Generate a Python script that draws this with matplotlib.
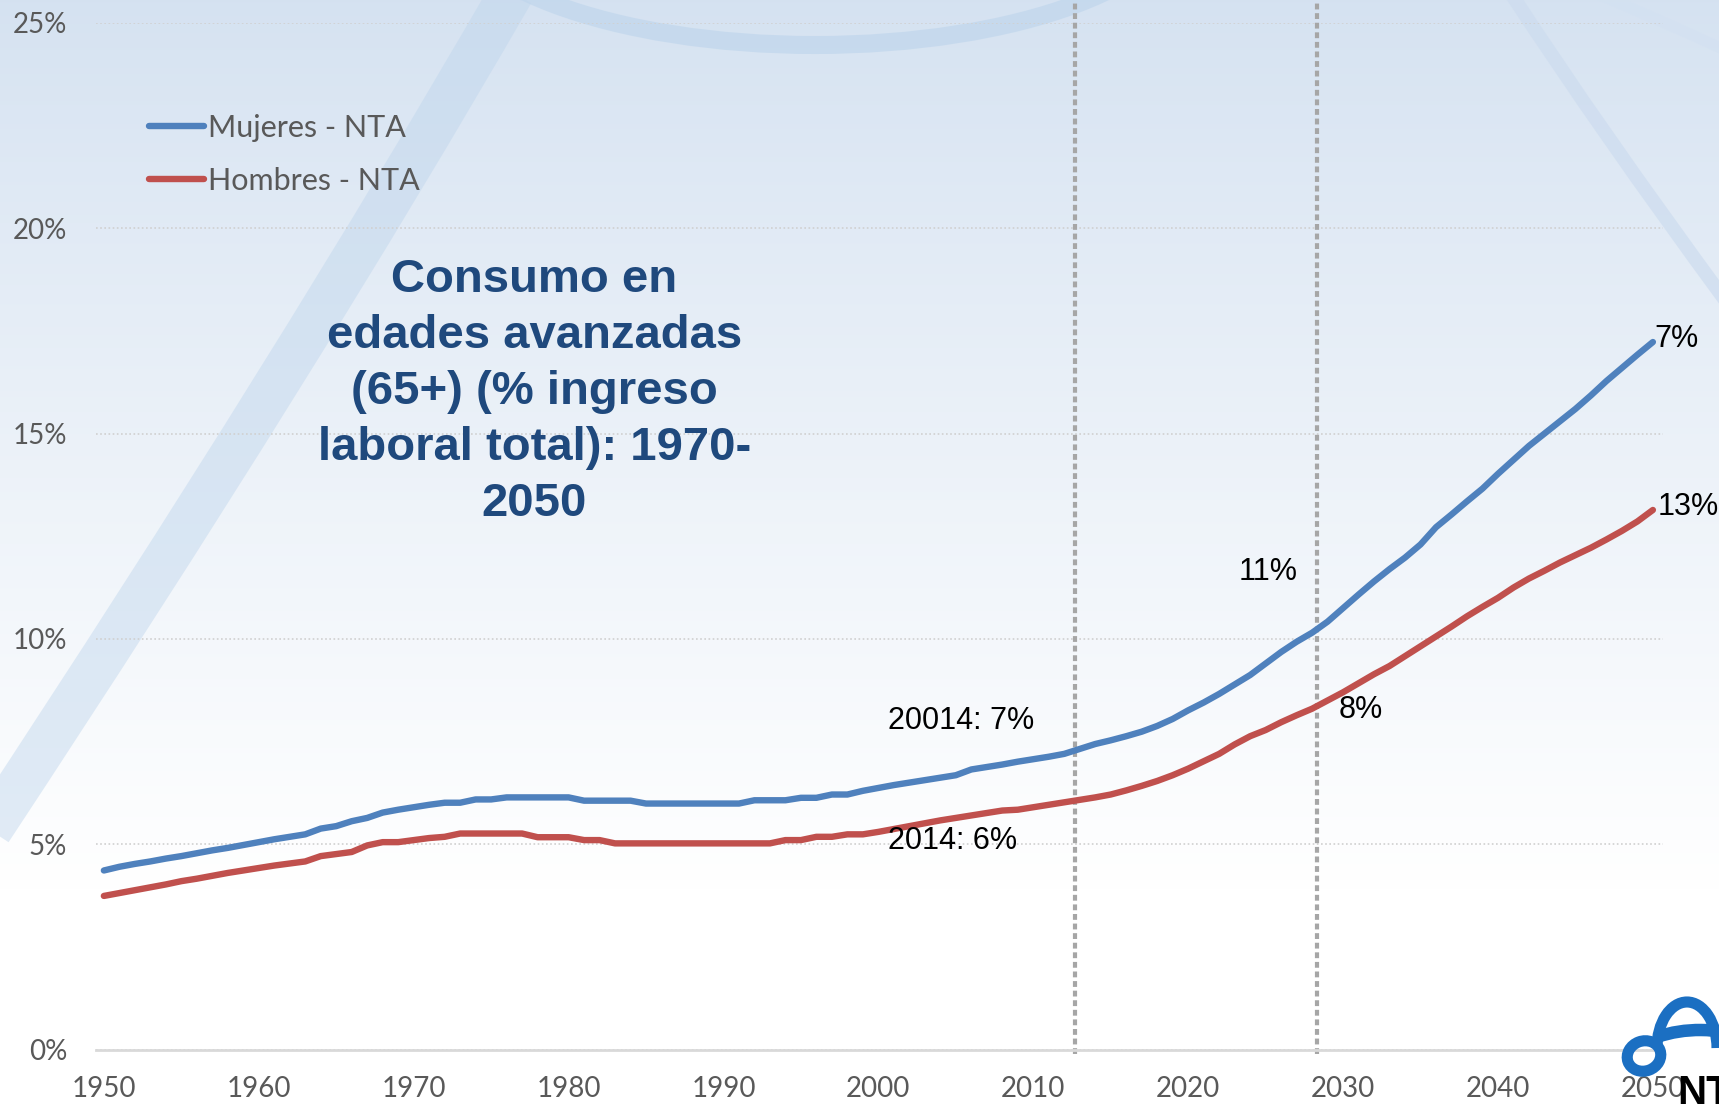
import matplotlib
matplotlib.use("Agg")
import matplotlib.pyplot as plt
import numpy as np
from matplotlib.patches import Ellipse, Arc, PathPatch
from matplotlib.path import Path
from matplotlib.ticker import FuncFormatter

plt.rcParams['lines.solid_capstyle'] = 'round'

# --- data ---
years = list(range(1950, 2051))
mujeres = [4.36, 4.45, 4.52, 4.58, 4.65, 4.71, 4.78, 4.85, 4.91, 4.98,
           5.05, 5.12, 5.18, 5.24, 5.38, 5.44, 5.56, 5.64, 5.77, 5.84,
           5.90, 5.96, 6.01, 6.01, 6.09, 6.09, 6.14, 6.14, 6.14, 6.14,
           6.14, 6.06, 6.06, 6.06, 6.06, 5.99, 5.99, 5.99, 5.99, 5.99,
           5.99, 5.99, 6.07, 6.07, 6.07, 6.13, 6.13, 6.21, 6.21, 6.30,
           6.37, 6.44, 6.50, 6.56, 6.62, 6.68, 6.82, 6.88, 6.94, 7.01,
           7.07, 7.13, 7.20, 7.32, 7.44, 7.53, 7.63, 7.74, 7.88, 8.05,
           8.26, 8.45, 8.66, 8.89, 9.12, 9.40, 9.68, 9.93, 10.15, 10.42,
           10.75, 11.08, 11.40, 11.70, 11.98, 12.30, 12.72, 13.03, 13.35, 13.66,
           14.02, 14.36, 14.70, 15.00, 15.30, 15.60, 15.93, 16.28, 16.60, 16.92,
           17.23]
hombres = [3.74, 3.81, 3.88, 3.95, 4.02, 4.10, 4.16, 4.23, 4.30, 4.36,
           4.42, 4.48, 4.53, 4.58, 4.71, 4.76, 4.81, 4.97, 5.05, 5.05,
           5.10, 5.15, 5.18, 5.26, 5.26, 5.26, 5.26, 5.26, 5.17, 5.17,
           5.17, 5.10, 5.10, 5.02, 5.02, 5.02, 5.02, 5.02, 5.02, 5.02,
           5.02, 5.02, 5.02, 5.02, 5.10, 5.10, 5.18, 5.18, 5.24, 5.24,
           5.30, 5.37, 5.44, 5.51, 5.58, 5.64, 5.70, 5.76, 5.82, 5.84,
           5.90, 5.96, 6.02, 6.08, 6.14, 6.21, 6.31, 6.42, 6.54, 6.68,
           6.84, 7.02, 7.20, 7.43, 7.63, 7.78, 7.97, 8.14, 8.30, 8.50,
           8.70, 8.92, 9.14, 9.34, 9.58, 9.82, 10.06, 10.30, 10.55, 10.78,
           11.00, 11.25, 11.47, 11.66, 11.86, 12.04, 12.22, 12.42, 12.63, 12.86,
           13.14]
series_names = ['Mujeres - NTA', 'Hombres - NTA']
title_text = 'Consumo en\nedades avanzadas\n(65+) (% ingreso\nlaboral total): 1970-\n2050'
# (text, x, y)
labels = [('20014: 7%', 2000.6, 8.0), ('2014: 6%', 2000.6, 5.07),
          ('11%', 2023.25, 11.62), ('8%', 2029.7, 8.28),
          ('7%', 2050.1, 17.3), ('13%', 2050.3, 13.22)]
marker_years = [2012.7, 2028.3]

W, H = 1719, 1110
fig = plt.figure(figsize=(W / 100, H / 100), dpi=100)

# background: light blue gradient and decorative bands
bg = fig.add_axes([0, 0, 1, 1], zorder=0)
bg.set_xlim(0, W)
bg.set_ylim(H, 0)
bg.axis('off')
t = np.linspace(0, 1, 400)[:, None]
top = np.array([0.835, 0.886, 0.945])
k = np.clip(t / 0.8, 0, 1) ** 0.9
grad = top + (1 - top) * k[..., None]
grad = np.repeat(grad, 2, axis=1)
bg.imshow(grad, extent=[0, W, H, 0], aspect='auto', interpolation='bilinear')

band = '#bed5ec'
p1 = Path([(-10, 830), (300, 360), (512, -8)], [Path.MOVETO, Path.CURVE3, Path.CURVE3])
bg.add_patch(PathPatch(p1, fill=False, lw=32, color=band, alpha=0.45, capstyle='butt'))
bg.add_patch(Ellipse((815, -95), 740, 280, fill=False, lw=13, color=band, alpha=0.65))
p3 = Path([(1512, -5), (1600, 130), (1725, 300)], [Path.MOVETO, Path.CURVE3, Path.CURVE3])
bg.add_patch(PathPatch(p3, fill=False, lw=10, color='#cddcef', alpha=0.7, capstyle='butt'))
p4 = Path([(1600, -5), (1660, 20), (1725, 50)], [Path.MOVETO, Path.CURVE3, Path.CURVE3])
bg.add_patch(PathPatch(p4, fill=False, lw=8, color='#d3e1f1', alpha=0.6, capstyle='butt'))

# main chart
ax = fig.add_axes([0.0561, 0.0545, 0.9113, 0.9248], zorder=1)
ax.patch.set_alpha(0)
ax.plot(years, mujeres, color='#4f81bd', lw=4.6, label=series_names[0], zorder=3)
ax.plot(years, hombres, color='#c0504d', lw=4.6, label=series_names[1], zorder=3)

for yr in marker_years:
    ax.axvline(yr, ymin=-0.004, ymax=1.03, color='#a6a6a6', lw=3,
               linestyle=(0, (1.4, 0.9)), clip_on=False, zorder=2)

ax.set_xlim(1949.52, 2050.65)
ax.set_ylim(0, 25)
ax.set_xticks(range(1950, 2051, 10))
ax.set_yticks(range(0, 26, 5))
ax.yaxis.set_major_formatter(FuncFormatter(lambda v, p: '%d%%' % v))
ax.yaxis.grid(True, color='#d0d0d0', lw=1.2, linestyle=(0, (1, 1.5)))
ax.set_axisbelow(True)
for s in ['top', 'right', 'left']:
    ax.spines[s].set_visible(False)
ax.spines['bottom'].set_color('#d9d9d9')
ax.spines['bottom'].set_linewidth(2)
ax.spines['bottom'].set_zorder(2.5)
ax.tick_params(axis='both', length=0, labelcolor='#595959', labelsize=20)
ax.tick_params(axis='y', pad=21)
ax.tick_params(axis='x', pad=19)
for lab in ax.get_xticklabels() + ax.get_yticklabels():
    lab.set_family('Lato')

leg = ax.legend(loc='upper left', bbox_to_anchor=(149 / W, 1 - 114 / H),
                bbox_transform=fig.transFigure, frameon=False,
                prop={'family': 'Lato', 'size': 22}, handlelength=1.8,
                handletextpad=0.12, labelspacing=0.82, borderpad=0, borderaxespad=0)
for txt in leg.get_texts():
    txt.set_color('#595959')

ax.text(1977.8, 16.02, title_text, ha='center', va='center', fontsize=34,
        fontweight='bold', color='#1f497d', family='Liberation Sans', linespacing=1.35,
        zorder=4)

for txt, x, y in labels:
    ax.text(x, y, txt, ha='left', va='center', fontsize=22, color='black',
            family='Liberation Sans', zorder=4, clip_on=False)

# NTA logo, bottom right (pixel coordinates, y downwards)
lg = fig.add_axes([0, 0, 1, 1], zorder=3)
lg.set_xlim(0, W)
lg.set_ylim(H, 0)
lg.axis('off')
blue = '#1b6fc2'
lg.add_patch(Ellipse((1644, 1056), 34, 30, angle=-20, fill=False, lw=8, color=blue))
lg.add_patch(Arc((1700, 1075), 160, 90, theta1=222, theta2=320, lw=9, color=blue))
lg.add_patch(Arc((1687, 1048), 60, 92, theta1=180, theta2=360, lw=8, color=blue))
lg.text(1677, 1104, 'NTA', fontsize=29, fontweight='bold', color='black',
        family='Liberation Sans', va='baseline', ha='left')

fig.savefig('out.png', dpi=100)
